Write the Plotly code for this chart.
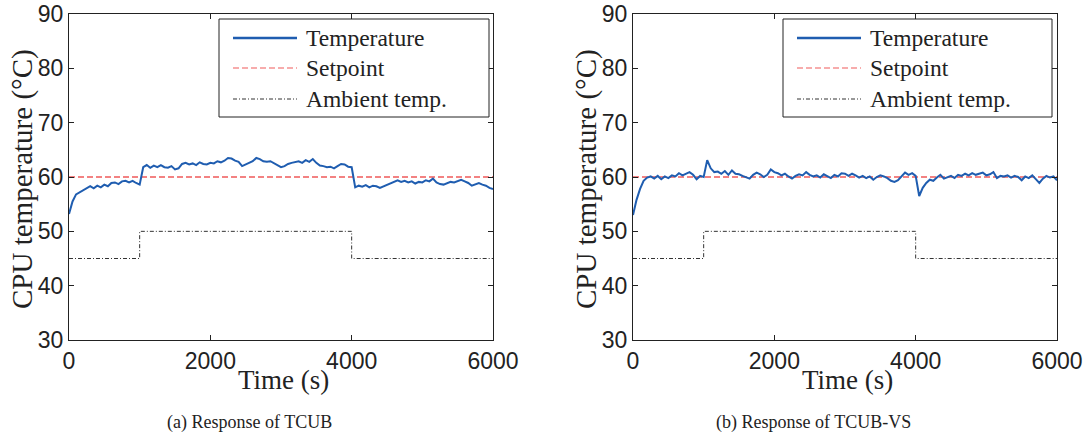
import plotly.graph_objects as go

W, H = 1086, 436

# ---------------- data ----------------
time_s = list(range(0, 6001, 50))

temp_tcub = [
    53.2, 55.5, 56.8, 57.2, 57.6, 57.9, 58.3, 57.9, 58.4, 58.1,
    58.6, 58.3, 58.9, 59.0, 58.7, 59.2, 59.3, 59.0, 59.3, 58.9,
    58.6, 61.8, 62.2, 61.7, 62.1, 61.8, 62.2, 61.8, 61.7, 62.0,
    61.4, 61.6, 62.4, 62.6, 62.3, 62.5, 62.2, 62.7, 62.4, 62.3,
    62.6, 62.5, 62.9, 62.7, 63.0, 63.5, 63.4, 63.0, 62.8, 62.0,
    62.3, 62.7, 62.9, 63.5, 63.3, 62.9, 62.8, 62.9, 62.5, 62.2,
    61.8, 62.0, 62.4, 62.6, 62.7, 62.9, 62.6, 63.1, 62.8, 63.3,
    62.6, 62.1, 62.0, 61.8, 61.9, 61.6, 62.0, 62.4, 62.3, 61.9,
    61.8, 58.1, 58.4, 58.2, 58.5, 58.1, 58.4, 58.3, 58.0, 58.3,
    58.6, 58.9, 59.2, 59.4, 59.1, 59.3, 59.0, 59.2, 58.8, 59.1,
    59.0, 59.4, 59.2, 59.7, 59.0, 58.7, 58.6, 58.9, 59.1, 59.0,
    59.3, 59.5, 59.2, 58.9, 58.4, 58.7, 58.9, 58.6, 58.4, 58.0,
    57.8,
]

temp_tcub_vs = [
    53.0, 55.8, 57.8, 59.3, 59.9, 60.1, 59.7, 60.2, 59.6, 60.1,
    59.8, 60.3, 60.1, 60.7, 60.3, 60.6, 60.9, 60.4, 59.6, 60.2,
    60.0, 63.1, 61.6, 60.9, 61.0, 60.6, 61.1, 60.4, 61.2, 60.6,
    60.5, 60.2, 59.9, 59.7, 60.4, 60.8, 60.5, 60.0, 60.4, 61.4,
    60.9, 60.7, 60.3, 60.6, 60.1, 59.7, 60.2, 60.5, 60.3, 60.9,
    60.4, 60.1, 60.3, 59.9, 60.5, 60.2, 59.8, 60.4, 60.1, 60.7,
    60.6, 60.2, 60.6, 60.3, 59.9, 60.2, 59.8, 60.1, 59.5, 60.0,
    60.3, 60.1, 59.8, 59.3, 59.1, 59.4, 60.2, 60.8, 60.4, 60.7,
    60.2, 56.5, 58.0, 58.9, 59.5, 59.3, 59.9, 60.4, 59.7, 59.9,
    60.2, 59.8, 60.4, 60.2, 60.6, 60.3, 60.7, 60.4, 60.6, 60.8,
    60.3, 60.5, 60.9, 59.8, 60.2, 60.1, 60.3, 59.9, 60.2, 60.0,
    59.4, 60.1, 59.8, 60.3, 59.6, 58.9, 59.7, 60.2, 59.9, 60.1,
    59.4,
]

setpoint_t = [0, 6000]
setpoint_v = [60, 60]

ambient_t = [0, 1000, 4000, 6000]
ambient_v = [45, 50, 45, 45]

x_ticks = [0, 2000, 4000, 6000]
y_ticks = [30, 40, 50, 60, 70, 80, 90]

legend_labels = ["Temperature", "Setpoint", "Ambient temp."]
captions = ["(a) Response of TCUB", "(b) Response of TCUB-VS"]

# ---------------- styles ----------------
BLUE = "#1f5db0"
RED = "#f05a5a"
DARK = "#222222"
SERIF = "Liberation Serif, Times New Roman, serif"
SANS = "Liberation Sans, Arial, Helvetica, sans-serif"


def px(x):
    return x / W


def py(y):
    return 1 - y / H


fig = go.Figure()

panels = [
    dict(series=temp_tcub, xa="x", ya="y", left=69, right=493),
    dict(series=temp_tcub_vs, xa="x2", ya="y2", left=633, right=1057),
]

for p in panels:
    fig.add_trace(go.Scatter(x=ambient_t, y=ambient_v, mode="lines", line_shape="hv",
                             line=dict(color="#333333", width=1, dash="4px,2px,1px,2px"),
                             xaxis=p["xa"], yaxis=p["ya"], showlegend=False))
    fig.add_trace(go.Scatter(x=setpoint_t, y=setpoint_v, mode="lines",
                             line=dict(color=RED, width=1.4, dash="6px,3px"),
                             xaxis=p["xa"], yaxis=p["ya"], showlegend=False))
    fig.add_trace(go.Scatter(x=time_s, y=p["series"], mode="lines",
                             line=dict(color=BLUE, width=2),
                             xaxis=p["xa"], yaxis=p["ya"], showlegend=False))

top, bottom = 14, 340
axis_common = dict(showline=True, linecolor=DARK, linewidth=1, mirror="ticks",
                   ticks="inside", ticklen=5, tickcolor=DARK, showgrid=False,
                   zeroline=False, automargin=False,
                   tickfont=dict(family=SANS, size=23, color=DARK))

fig.update_layout(
    width=W, height=H, autosize=False,
    margin=dict(l=0, r=0, t=0, b=0, pad=0),
    paper_bgcolor="white", plot_bgcolor="white",
    showlegend=False,
    xaxis=dict(domain=[px(69), px(493)], range=[0, 6000], tickvals=x_ticks, anchor="y", **axis_common),
    yaxis=dict(domain=[py(bottom), py(top)], range=[30, 90], tickvals=y_ticks, anchor="x", **axis_common),
    xaxis2=dict(domain=[px(633), px(1057)], range=[0, 6000], tickvals=x_ticks, anchor="y2", **axis_common),
    yaxis2=dict(domain=[py(bottom), py(top)], range=[30, 90], tickvals=y_ticks, anchor="x2", **axis_common),
)

shapes = []
annotations = []
legend_boxes = [(219, 489), (783, 1052)]
row_y = [38, 68, 99]
line_styles = [
    dict(color=BLUE, width=2.5, dash="solid"),
    dict(color=RED, width=1.2, dash="6px,3px"),
    dict(color="#333333", width=1, dash="4px,2px,1px,2px"),
]
for bi, (lx0, lx1) in enumerate(legend_boxes):
    shapes.append(dict(type="rect", xref="paper", yref="paper",
                       x0=px(lx0), x1=px(lx1), y0=py(117), y1=py(19),
                       line=dict(color=DARK, width=1), fillcolor="white", layer="above"))
    for i, lab in enumerate(legend_labels):
        shapes.append(dict(type="line", xref="paper", yref="paper",
                           x0=px(lx0 + 14), x1=px(lx0 + 78), y0=py(row_y[i]), y1=py(row_y[i]),
                           line=line_styles[i], layer="above"))
        annotations.append(dict(text=lab, xref="paper", yref="paper",
                                x=px(lx0 + 85), y=py(row_y[i]), xanchor="left", yanchor="middle",
                                showarrow=False, font=dict(family=SERIF, size=23.5, color=DARK)))

for p, cap in zip(panels, captions):
    cx = (p["left"] + p["right"]) / 2
    annotations.append(dict(text="Time (s)", xref="paper", yref="paper", x=px(cx + 2), y=py(380),
                            xanchor="center", yanchor="middle", showarrow=False,
                            font=dict(family=SERIF, size=27, color=DARK)))
    annotations.append(dict(text="CPU temperature (°C)", xref="paper", yref="paper",
                            x=px(p["left"] - 47), y=py(179), textangle=-90,
                            xanchor="center", yanchor="middle", showarrow=False,
                            font=dict(family=SERIF, size=29, color=DARK)))
    annotations.append(dict(text=cap, xref="paper", yref="paper", x=px(cx - 32), y=py(422),
                            xanchor="center", yanchor="middle", showarrow=False,
                            font=dict(family=SERIF, size=18, color=DARK)))

fig.update_layout(shapes=shapes, annotations=annotations)

assert len(temp_tcub) == len(time_s) and len(temp_tcub_vs) == len(time_s)
fig.write_html("out.html")
